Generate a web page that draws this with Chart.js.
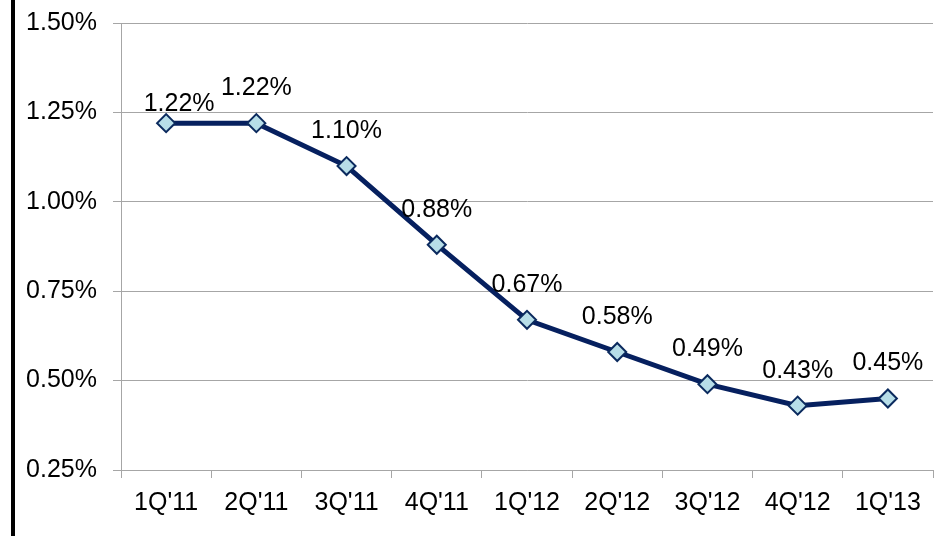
<!DOCTYPE html>
<html>
<head>
<meta charset="utf-8">
<script src="https://cdn.jsdelivr.net/npm/chart.js@4"></script>
<style>
  html, body { margin: 0; padding: 0; background: #fff; overflow: hidden; }
  #frame { position: relative; width: 936px; height: 536px; overflow: hidden; }
  #edge { position: absolute; left: 11px; top: 0; width: 4px; height: 536px; background: #000; }
  #wrap { position: absolute; left: 0; top: 0; width: 936px; height: 536px; }
</style>
</head>
<body>
<div id="frame">
  <div id="wrap"><canvas id="rateChart"></canvas></div>
  <div id="edge"></div>
</div>
<script>
// quarters and rates
const quarters = ["1Q'11", "2Q'11", "3Q'11", "4Q'11", "1Q'12", "2Q'12", "3Q'12", "4Q'12", "1Q'13"];
const rates = [1.22, 1.22, 1.10, 0.88, 0.67, 0.58, 0.49, 0.43, 0.45];
const yTicks = [0.25, 0.50, 0.75, 1.00, 1.25, 1.50];

const FONT = "'Liberation Sans', Arial, sans-serif";
const GRID = '#a6a6a6';

// value labels above each point
const pointLabels = {
    id: 'pointLabels',
    afterDatasetsDraw(chart) {
        const ctx = chart.ctx;
        const meta = chart.getDatasetMeta(0);
        ctx.save();
        ctx.font = '25px ' + FONT;
        ctx.fillStyle = '#000';
        ctx.textAlign = 'center';
        ctx.textBaseline = 'middle';
        meta.data.forEach((pt, i) => {
            // first label sits lower and a bit to the right
            const dx = i === 0 ? 13 : 0;
            const dy = i === 0 ? -19 : -35;
            ctx.fillText(rates[i].toFixed(2) + '%', pt.x + dx, pt.y + dy);
        });
        ctx.restore();
    }
};

const ctx = document.getElementById('rateChart').getContext('2d');
new Chart(ctx, {
    type: 'line',
    data: {
        labels: quarters,
        datasets: [{
            data: rates,
            borderColor: '#06205f',
            borderWidth: 5,
            tension: 0,
            pointStyle: 'rectRot',
            pointRadius: 9,
            pointBorderWidth: 2,
            pointBackgroundColor: '#b7dee8',
            pointBorderColor: '#0b2a5e'
        }]
    },
    options: {
        responsive: true,
        maintainAspectRatio: false,
        animation: false,
        layout: { autoPadding: false, padding: { top: 23, right: 3, bottom: 0, left: 0 } },
        plugins: {
            legend: { display: false },
            title: { display: false },
            tooltip: { enabled: false }
        },
        scales: {
            x: {
                offset: true,
                grid: { offset: true, drawOnChartArea: false, drawTicks: true, tickLength: 8, color: GRID },
                border: { display: true, color: GRID, width: 1 },
                ticks: { color: '#000', font: { family: FONT, size: 25 }, padding: 10, maxRotation: 0, autoSkip: false },
                afterFit(scale) {
                    scale.height = 66;
                    scale.paddingLeft = 0;
                    scale.paddingRight = 0;
                }
            },
            y: {
                min: yTicks[0],
                max: yTicks[yTicks.length - 1],
                afterBuildTicks(scale) { scale.ticks = yTicks.map(v => ({ value: v })); },
                grid: { color: GRID, tickLength: 8 },
                border: { display: true, color: GRID, width: 1 },
                ticks: {
                    color: '#000',
                    font: { family: FONT, size: 25 },
                    padding: 16,
                    callback: v => v.toFixed(2) + '%'
                },
                afterFit(scale) {
                    scale.width = 121;
                    scale.paddingTop = 0;
                    scale.paddingBottom = 0;
                }
            }
        }
    },
    plugins: [pointLabels]
});
</script>
</body>
</html>
